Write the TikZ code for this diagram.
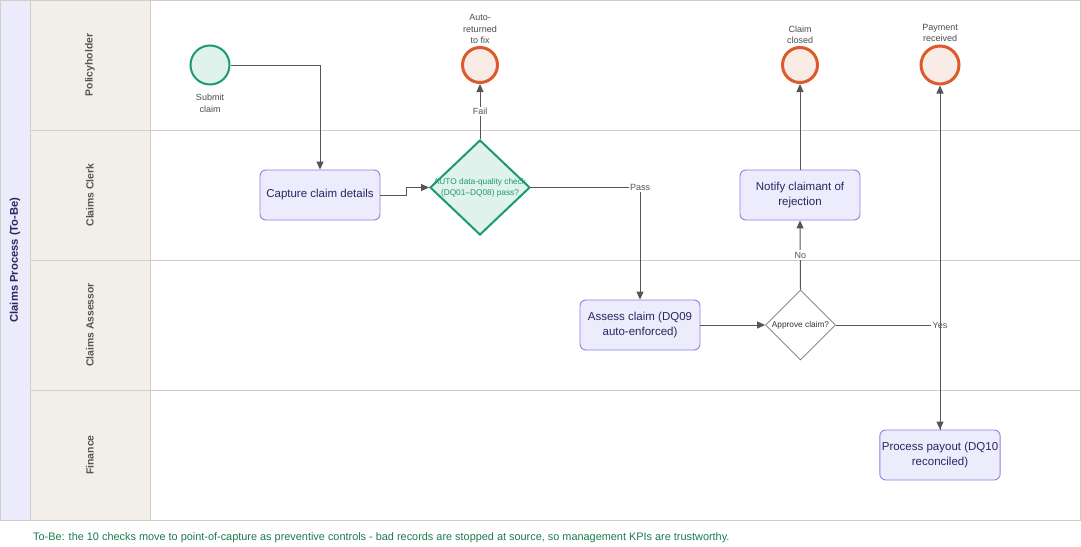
\documentclass[tikz,border=0pt]{standalone}
\usepackage{fontspec}
\setmainfont{Liberation Sans}
\usetikzlibrary{shapes.geometric,arrows.meta}
\definecolor{grn}{HTML}{1D9B6C}
\definecolor{grnfill}{HTML}{DFF3EC}
\definecolor{org}{HTML}{DD5A2A}
\definecolor{orgfill}{HTML}{F9EBE6}
\definecolor{procfill}{HTML}{ECECFC}
\definecolor{procline}{HTML}{8F7FE3}
\definecolor{navy}{HTML}{2A2760}
\definecolor{lanefill}{HTML}{F1EFE8}
\definecolor{laneline}{HTML}{D0CFC4}
\definecolor{titlefill}{HTML}{EBEBFB}
\definecolor{edge}{HTML}{555555}
\definecolor{foot}{HTML}{1E7A4F}
\tikzset{
  proc/.style={draw=procline, fill=procfill, rounded corners=6pt, line width=0.9pt,
    minimum width=120pt, minimum height=50pt, align=center, text=navy,
    font=\fontsize{11.5}{14.5}\selectfont, inner sep=2pt},
  startev/.style={circle, draw=grn, fill=grnfill, line width=2pt, minimum size=39pt, inner sep=0pt},
  endev/.style={circle, draw=org, fill=orgfill, line width=3pt, minimum size=35pt, inner sep=0pt},
  evlabel/.style={align=center, text=edge!90!black, font=\fontsize{9}{11.5}\selectfont, inner sep=0pt},
  arr/.style={draw=edge, line width=1pt, -{Triangle[length=8pt,width=7pt]}},
  elabel/.style={fill=white, text=edge, font=\fontsize{9}{11}\selectfont, inner sep=1.5pt},
  lanetxt/.style={rotate=90, text=edge, font=\bfseries\fontsize{10.4}{12}\selectfont},
}
\begin{document}
\begin{tikzpicture}[x=1pt,y=-1pt]
\useasboundingbox (0,0) rectangle (1081,546);
% pool
\fill[white] (0,0) rectangle (1081,546);
\filldraw[fill=titlefill, draw=laneline] (0.5,0.5) rectangle (30,520);
\filldraw[fill=lanefill, draw=laneline] (30,0.5) rectangle (150,520);
\draw[laneline] (150,0.5) rectangle (1080.5,520);
\foreach \y in {130,260,390} \draw[laneline] (30,\y) -- (1080.5,\y);
\node[rotate=90, text=navy, font=\bfseries\fontsize{11.2}{13}\selectfont] (pooltitle) at (15,260) {Claims Process (To-Be)};
\node[lanetxt] (l1) at (90,65) {Policyholder};
\node[lanetxt] (l2) at (90,195) {Claims Clerk};
\node[lanetxt] (l3) at (90,325) {Claims Assessor};
\node[lanetxt] (l4) at (90,455) {Finance};

% nodes
\node[startev] (start) at (210,65) {};
\node[evlabel, anchor=north] (startlbl) at (210,94) {Submit\\claim};
\node[proc] (capture) at (320,195) {Capture claim details};
\node[diamond, draw=grn, fill=grnfill, line width=2pt, minimum width=100pt, minimum height=95pt, inner sep=0pt] (dq) at (480,187.5) {};
\node[text=grn, align=center, font=\fontsize{8.3}{11}\selectfont, inner sep=0pt] (dqtxt) at (dq.center) {AUTO data-quality check\\(DQ01--DQ08) pass?};
\node[endev] (ret) at (480,65) {};
\node[evlabel, anchor=south] (retlbl) at (480,44) {Auto-\\returned\\to fix};
\node[proc] (assess) at (640,325) {Assess claim (DQ09\\auto-enforced)};
\node[diamond, draw=edge!80, fill=white, line width=0.8pt, minimum width=70pt, minimum height=70pt, inner sep=0pt] (appr) at (800.5,325) {};
\node[text=black!80, font=\fontsize{8.3}{10}\selectfont, inner sep=0pt] (apprtxt) at (appr.center) {Approve claim?};
\node[proc] (notify) at (800,195) {Notify claimant of\\rejection};
\node[endev] (closed) at (800,65) {};
\node[evlabel, anchor=south] (closedlbl) at (800,44) {Claim\\closed};
\node[endev, minimum size=38pt] (paid) at (940,65) {};
\node[evlabel, anchor=south] (paidlbl) at (940,42) {Payment\\received};
\node[proc] (payout) at (940,455) {Process payout (DQ10\\reconciled)};

% edges
\draw[arr] (start.east) -| (capture.north);
\draw[arr] (capture.east) -- ++(26,0) |- (dq.west);
\draw[arr] (dq.north) -- node[elabel, pos=0.5] {Fail} (ret.south);
\draw[arr] (dq.east) -| node[elabel, pos=0.5] {Pass} (assess.north);
\draw[arr] (assess.east) -- (appr.west);
\draw[arr] (appr.north) -- node[elabel, pos=0.5] {No} (notify.south);
\draw[arr] (notify.north) -- (closed.south);
\draw[arr] (appr.east) -| node[elabel, pos=0.5] {Yes} (payout.north);
\draw[arr] (payout.north) -- (paid.south);

% footer
\node[anchor=west, text=foot, font=\fontsize{10.9}{12}\selectfont, inner sep=0pt] (footer) at (33,538) {To-Be: the 10 checks move to point-of-capture as preventive controls - bad records are stopped at source, so management KPIs are trustworthy.};
\end{tikzpicture}
\end{document}
